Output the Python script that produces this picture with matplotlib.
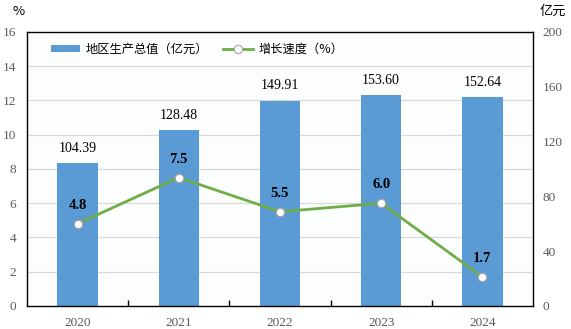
import numpy as np
import matplotlib.pyplot as plt
from matplotlib.ticker import MultipleLocator

years = ['2020', '2021', '2022', '2023', '2024']
gdp = [104.39, 128.48, 149.91, 153.60, 152.64]      # 亿元
growth = [4.8, 7.5, 5.5, 6.0, 1.7]                   # %

cjk = ['Noto Sans CJK SC', 'DejaVu Sans']
num = 'Liberation Serif'
tick_grey = '#595959'

fig = plt.figure(figsize=(5.71, 3.29), dpi=100)
ax = fig.add_axes([0.0473, 0.070, 0.886, 0.833])
ax.set_facecolor('#FCFEFD')
x = np.arange(len(years))

# bars on the 亿元 scale (right side)
bars = ax.bar(x, gdp, width=0.4, color='#5B9BD5', zorder=2)
ax.set_ylim(0, 200)
ax.set_xlim(-0.5, len(years) - 0.5)
ax.yaxis.set_major_locator(MultipleLocator(40))
ax.yaxis.set_minor_locator(MultipleLocator(25))
ax.grid(axis='y', which='minor', color='#D9D9D9', lw=0.9, zorder=0)
ax.set_xticks(x)
ax.set_xticklabels(years)
ax.set_xticks(x[:-1] + 0.5, minor=True)
ax.tick_params(axis='x', which='major', length=0, pad=8, labelsize=9.5, labelcolor=tick_grey)
ax.tick_params(axis='x', which='minor', direction='in', length=4, width=1, color='black')
for s in ax.spines.values():
    s.set_color('black')
    s.set_linewidth(1)

for xi, v in zip(x, gdp):
    ax.annotate(f'{v:.2f}', (xi, v), xytext=(0, 10.5), textcoords='offset points',
                ha='center', va='center', fontsize=10, fontfamily=num, color='black')

# growth rate line on the % scale (left side)
ax2 = ax.twinx()
line, = ax2.plot(x, growth, color='#70AD47', lw=2, marker='o', ms=6,
                 mfc='white', mec='#A6A6A6', mew=0.8, zorder=3)
ax2.set_ylim(0, 16)
ax2.yaxis.set_major_locator(MultipleLocator(2))
ax2.yaxis.tick_left()
ax.yaxis.tick_right()
ax.tick_params(axis='y', which='both', length=0, pad=7, labelsize=9.5, labelcolor=tick_grey)
ax2.tick_params(axis='y', length=0, pad=8, labelsize=9.5, labelcolor=tick_grey)
for lab in ax.get_xticklabels() + ax.get_yticklabels() + ax2.get_yticklabels():
    lab.set_fontfamily(num)
for s in ax2.spines.values():
    s.set_visible(False)

for xi, v in zip(x, growth):
    ax2.annotate(f'{v:.1f}', (xi, v), xytext=(0, 13.3), textcoords='offset points',
                 ha='center', va='center', fontsize=10.5, fontweight='bold',
                 fontfamily=num, color='black')

ax2.legend([bars, line], ['地区生产总值（亿元）', '增长速度（%）'], ncol=2, frameon=False,
           loc='upper left', bbox_to_anchor=(0.025, 1.0), prop={'family': cjk, 'size': 8.8},
           handlelength=2.4, handleheight=0.6, columnspacing=1.2, handletextpad=0.5)

fig.text(0.022, 0.955, '%', fontsize=9.5, fontfamily=cjk, color='black')
fig.text(0.945, 0.955, '亿元', fontsize=9.5, fontfamily=cjk, color='black')

fig.savefig('out.png', dpi=100)
